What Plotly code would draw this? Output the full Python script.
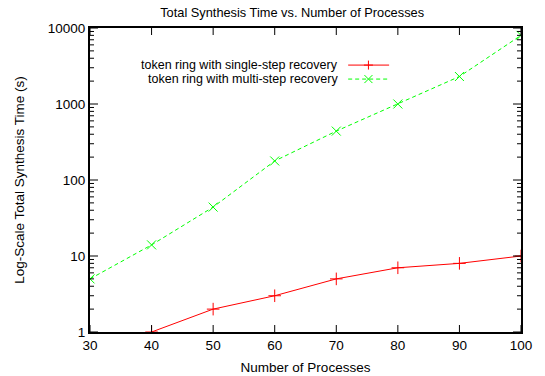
import math
import plotly.graph_objects as go

processes = [30, 40, 50, 60, 70, 80, 90, 100]
single_x = [40, 50, 60, 70, 80, 90, 100]
single_step = [1, 2, 3, 5, 7, 8, 10]
multi_step = [5, 14, 44, 178, 440, 1000, 2300, 8000]
names = ["token ring with single-step recovery", "token ring with multi-step recovery"]
colors = ["#ff0000", "#00ff00"]
ytickvals = [1, 10, 100, 1000, 10000]
yticktext = ["1", "10", "100", "1000", "10000"]
xtickvals = [30, 40, 50, 60, 70, 80, 90, 100]
yminor = [m * 10 ** k for k in range(4) for m in range(2, 10)]

FONT = "Liberation Sans, Arial, sans-serif"
W, H = 545, 376
ML, MR, MT, MB = 90, 24, 28, 44
PW, PH = W - ML - MR, H - MT - MB
XR = [30, 100]
YR = [0, 4]

fig = go.Figure()
fig.add_trace(go.Scatter(x=single_x, y=single_step, mode="lines+markers", name=names[0],
                         line=dict(color=colors[0], width=1),
                         marker=dict(symbol="cross-thin", size=9, line=dict(color=colors[0], width=1)),
                         showlegend=False))
fig.add_trace(go.Scatter(x=processes, y=multi_step, mode="lines+markers", name=names[1],
                         line=dict(color=colors[1], width=1, dash="4px,3px"),
                         marker=dict(symbol="x-thin", size=9, line=dict(color=colors[1], width=1)),
                         showlegend=False))

# hand-made legend (sample on the right of the text)
leg_y = [0.878, 0.832]
marker_paths = ["M-4.5,0 L4.5,0 M0,-4.5 L0,4.5", "M-4,-4 L4,4 M-4,4 L4,-4"]
for i in range(2):
    fig.add_shape(type="line", xref="paper", yref="paper", x0=0.599, x1=0.694, y0=leg_y[i], y1=leg_y[i],
                  line=dict(color=colors[i], width=1, dash="solid" if i == 0 else "4px,3px"))
    fig.add_shape(type="path", xref="paper", yref="paper", xsizemode="pixel", ysizemode="pixel",
                  xanchor=0.646, yanchor=leg_y[i], path=marker_paths[i],
                  line=dict(color=colors[i], width=1))
    fig.add_annotation(x=0.58, y=leg_y[i], xref="paper", yref="paper", text=names[i],
                       showarrow=False, xanchor="right", yanchor="middle",
                       font=dict(family=FONT, size=12.5, color="#000"))

# inward tick marks on all four sides (gnuplot style), placed from the tick value lists
tick_line = dict(color="black", width=1)
for v in xtickvals:
    px = (v - XR[0]) / (XR[1] - XR[0])
    L = 7 / PH
    fig.add_shape(type="line", xref="paper", yref="paper", x0=px, x1=px, y0=0, y1=L, line=tick_line)
    fig.add_shape(type="line", xref="paper", yref="paper", x0=px, x1=px, y0=1, y1=1 - L, line=tick_line)
for vals, tl in ((ytickvals, 8), (yminor, 4)):
    for v in vals:
        py = (math.log10(v) - YR[0]) / (YR[1] - YR[0])
        L = tl / PW
        fig.add_shape(type="line", xref="paper", yref="paper", x0=0, x1=L, y0=py, y1=py, line=tick_line)
        fig.add_shape(type="line", xref="paper", yref="paper", x0=1, x1=1 - L, y0=py, y1=py, line=tick_line)

fig.update_layout(
    width=W, height=H,
    margin=dict(l=ML, r=MR, t=MT, b=MB),
    paper_bgcolor="white", plot_bgcolor="white",
    font=dict(family=FONT, size=13.5, color="#000"),
    title=dict(text="Total Synthesis Time vs. Number of Processes", x=0.536, xanchor="center",
               y=0.968, yanchor="middle", font=dict(family=FONT, size=12.8, color="#000")),
    xaxis=dict(range=XR, tickmode="array", tickvals=xtickvals, ticks="",
               showline=True, linecolor="black", linewidth=2,
               mirror=True, showgrid=False, zeroline=False, automargin=False,
               title=dict(text="Number of Processes", standoff=10, font=dict(size=13.5))),
    yaxis=dict(type="log", range=YR, tickmode="array", tickvals=ytickvals, ticktext=yticktext,
               ticks="", showline=True, linecolor="black", linewidth=2, mirror=True,
               showgrid=False, zeroline=False, automargin=False,
               title=dict(text="Log-Scale Total Synthesis Time (s)", standoff=20, font=dict(size=13.5))),
)

fig.write_html("out.html")
